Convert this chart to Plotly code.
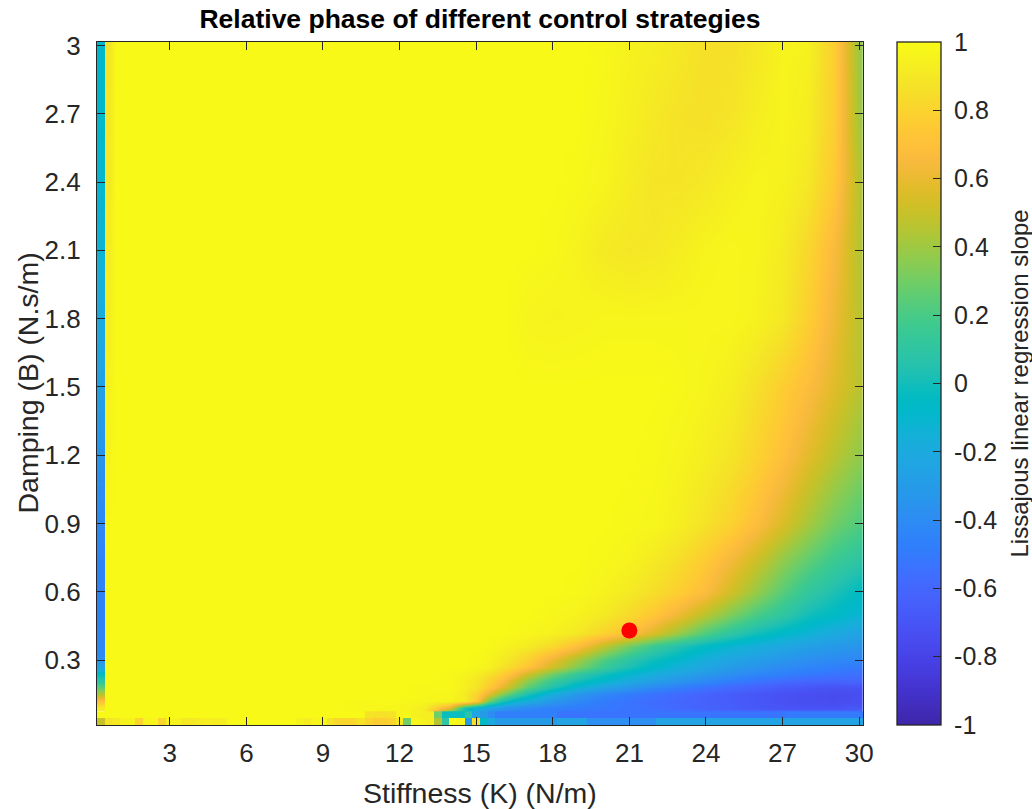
import plotly.graph_objects as go

# ---------------------------------------------------------------------------
# Lissajous linear regression slope over the stiffness / damping plane
# ---------------------------------------------------------------------------

# Field sampled at K (N/m) nodes and B (N.s/m) nodes; rows follow B_NODES.
K_NODES = [0.6, 0.9, 3, 6, 9, 12, 13, 14, 14.5, 15, 15.5, 16, 16.5, 17,
           18, 19, 20, 21, 22, 23, 24, 25, 26, 27, 28, 29, 30]
B_NODES = [0.06, 0.09, 0.12, 0.15, 0.18, 0.21, 0.24, 0.27, 0.30, 0.36, 0.42, 0.50,
           0.60, 0.75, 0.90, 1.2, 1.5, 1.8, 2.1, 2.4, 2.7, 3.0]

SLOPE_ROWS = [
    # B = 0.06
    [0.99] * 5 + [0.97, 0.93, -0.02, -0.02, -0.25, -0.35, -0.45, -0.47, -0.47, -0.50, -0.53,
                  -0.53, -0.53, -0.53, -0.53, -0.53, -0.53, -0.53, -0.53, -0.52, -0.50, -0.50],
    # B = 0.09
    [0.99] * 5 + [0.97, 0.93, 0.55, 0.05, -0.15, -0.25, -0.33, -0.38, -0.42, -0.46, -0.49,
                  -0.51, -0.53, -0.56, -0.59, -0.62, -0.65, -0.68, -0.70, -0.71, -0.71, -0.68],
    # B = 0.12
    [0.99] * 5 + [0.98, 0.97, 0.96, 0.93, 0.75, 0.30, 0.05, -0.10, -0.18, -0.32, -0.42,
                  -0.49, -0.53, -0.57, -0.60, -0.63, -0.66, -0.69, -0.72, -0.74, -0.75, -0.74],
    # B = 0.15
    [0.99] * 6 + [0.98, 0.97, 0.92, 0.80, 0.58, 0.36, 0.18, 0.03, -0.18, -0.33, -0.42,
                  -0.49, -0.54, -0.58, -0.62, -0.66, -0.69, -0.72, -0.74, -0.75, -0.74],
    # B = 0.18
    [0.99] * 6 + [0.98, 0.98, 0.95, 0.88, 0.76, 0.60, 0.42, 0.26, 0.05, -0.12, -0.24,
                  -0.33, -0.41, -0.47, -0.53, -0.58, -0.62, -0.66, -0.69, -0.71, -0.71],
    # B = 0.21
    [0.99] * 7 + [0.98, 0.95, 0.90, 0.80, 0.68, 0.52, 0.36, 0.14, 0.00, -0.10, -0.20,
                  -0.28, -0.35, -0.42, -0.48, -0.53, -0.57, -0.60, -0.61, -0.60],
    # B = 0.24
    [0.99] * 7 + [0.98, 0.96, 0.93, 0.87, 0.78, 0.66, 0.52, 0.30, 0.12, 0.00, -0.10,
                  -0.18, -0.25, -0.32, -0.38, -0.43, -0.47, -0.50, -0.53, -0.55],
    # B = 0.27
    [0.99] * 9 + [0.97, 0.95, 0.88, 0.80, 0.72, 0.52, 0.32, 0.15, 0.02, -0.08, -0.16,
                  -0.23, -0.30, -0.35, -0.40, -0.44, -0.47, -0.50],
    # B = 0.30
    [0.99] * 9 + [0.98, 0.96, 0.92, 0.86, 0.78, 0.60, 0.40, 0.22, 0.08, -0.02, -0.10,
                  -0.18, -0.24, -0.29, -0.34, -0.38, -0.41, -0.44],
    # B = 0.36
    [0.99] * 10 + [0.98, 0.96, 0.94, 0.92, 0.83, 0.68, 0.48, 0.30, 0.15, 0.04, -0.05,
                   -0.12, -0.17, -0.22, -0.27, -0.31, -0.34],
    # B = 0.42
    [0.99] * 12 + [0.98, 0.97, 0.95, 0.90, 0.80, 0.70, 0.55, 0.38, 0.22, 0.10, 0.00,
                   -0.07, -0.13, -0.20, -0.25],
    # B = 0.50
    [0.99] * 14 + [0.97, 0.95, 0.91, 0.83, 0.73, 0.60, 0.46, 0.32, 0.20, 0.10, 0.00,
                   -0.06, -0.12],
    # B = 0.60
    [0.99] * 15 + [0.98, 0.95, 0.91, 0.85, 0.77, 0.67, 0.52, 0.38, 0.24, 0.12, 0.03, -0.05],
    # B = 0.75
    [0.99] * 16 + [0.98, 0.96, 0.91, 0.85, 0.76, 0.64, 0.52, 0.38, 0.27, 0.17, 0.10],
    # B = 0.90
    [0.99] * 17 + [0.98, 0.97, 0.93, 0.87, 0.79, 0.68, 0.55, 0.42, 0.30, 0.22],
    # B = 1.2
    [0.96] + [0.99] * 17 + [0.98, 0.96, 0.93, 0.88, 0.80, 0.70, 0.58, 0.47, 0.37],
    # B = 1.5
    [0.95] + [0.99] * 18 + [0.98, 0.96, 0.93, 0.86, 0.77, 0.68, 0.57, 0.46],
    # B = 1.8
    [0.93] + [0.99] * 11 + [0.98, 0.96, 0.95, 0.96, 0.97, 0.97, 0.97, 0.97, 0.97, 0.97,
                            0.95, 0.90, 0.78, 0.62, 0.46],
    # B = 2.1
    [0.92] + [0.99] * 13 + [0.98, 0.95, 0.91, 0.89, 0.90, 0.93, 0.96, 0.97, 0.96, 0.92,
                            0.82, 0.66, 0.45],
    # B = 2.4
    [0.90] + [0.99] * 14 + [0.98, 0.96, 0.92, 0.88, 0.88, 0.90, 0.94, 0.96, 0.95, 0.90,
                            0.75, 0.45],
    # B = 2.7
    [0.89] + [0.99] * 15 + [0.97, 0.94, 0.90, 0.87, 0.86, 0.88, 0.93, 0.96, 0.93, 0.78, 0.40],
    # B = 3.0
    [0.88] + [0.99] * 15 + [0.98, 0.95, 0.93, 0.90, 0.86, 0.86, 0.90, 0.96, 0.95, 0.78, 0.38],
]

# First stiffness column (K = 0.3 N/m), sampled along B
EDGE_B = [0.09, 0.12, 0.15, 0.18, 0.21, 0.24, 0.27, 0.30, 0.33, 0.45, 0.60, 0.75,
          0.90, 1.2, 1.5, 1.8, 2.1, 2.4, 2.7, 3.0]
EDGE_SLOPE = [0.92, 0.70, 0.45, 0.25, 0.10, -0.05, -0.25, -0.35, -0.42, -0.45, -0.45,
              -0.45, -0.42, -0.35, -0.27, -0.20, -0.13, -0.10, -0.08, -0.08]

# Two lowest damping rows (B = 0.03 and 0.06) at full stiffness resolution
K_FINE = [round(0.3 * i, 1) for i in range(1, 101)]
B_LOW = [0.03, 0.06]
ROW_B003 = ([0.50, 0.88, 0.90, 0.95, 0.96, 0.80, 0.96, 0.97, 0.80, 0.95, 0.96, 0.90, 0.90,
             0.92, 0.93, 0.92, 0.93]
            + [0.99] * 9
            + [0.95, 0.92, 0.97, 0.97, 0.88, 0.82, 0.80, 0.82, 0.88, 0.80, 0.76, 0.78, 0.80,
               0.90, 0.30, 0.97, 0.95, 0.93, 0.45, 0.10, 0.99, 0.97, -0.30, 0.85, -0.05, -0.20]
            + [-0.30] * 8 + [-0.25] * 4 + [-0.38] * 9 + [-0.25] * 27)
ROW_B006 = ([0.99] * 35
            + [0.88, 0.86, 0.86, 0.88, 0.97, 0.98, 0.94, 0.93, 0.93, 0.30, -0.02, -0.02, -0.02,
               0.08, -0.25, -0.30, -0.40]
            + [-0.47] * 8 + [-0.53] * 30 + [-0.50] * 10)

# Operating point
POINT_K = [21.0]
POINT_B = [0.43]

X_TICKS = [3, 6, 9, 12, 15, 18, 21, 24, 27, 30]
Y_TICKS = [0.3, 0.6, 0.9, 1.2, 1.5, 1.8, 2.1, 2.4, 2.7, 3.0]
Y_TICK_TEXT = ["0.3", "0.6", "0.9", "1.2", "1.5", "1.8", "2.1", "2.4", "2.7", "3"]
C_TICKS = [1, 0.8, 0.6, 0.4, 0.2, 0, -0.2, -0.4, -0.6, -0.8, -1]
C_TICK_TEXT = ["1", "0.8", "0.6", "0.4", "0.2", "0", "-0.2", "-0.4", "-0.6", "-0.8", "-1"]

assert all(len(r) == len(K_NODES) for r in SLOPE_ROWS) and len(SLOPE_ROWS) == len(B_NODES)
assert len(EDGE_B) == len(EDGE_SLOPE)
assert len(ROW_B003) == 100 and len(ROW_B006) == 100

# MATLAB parula colormap (64 entries)
PARULA = [
    [0.2422, 0.1504, 0.6603], [0.2504, 0.1650, 0.7076], [0.2578, 0.1818, 0.7511],
    [0.2647, 0.1978, 0.7952], [0.2706, 0.2147, 0.8364], [0.2751, 0.2342, 0.8710],
    [0.2783, 0.2559, 0.8991], [0.2803, 0.2782, 0.9221], [0.2813, 0.3006, 0.9414],
    [0.2810, 0.3228, 0.9579], [0.2795, 0.3447, 0.9717], [0.2760, 0.3667, 0.9829],
    [0.2699, 0.3892, 0.9906], [0.2602, 0.4123, 0.9952], [0.2440, 0.4358, 0.9988],
    [0.2206, 0.4603, 0.9973], [0.1963, 0.4847, 0.9892], [0.1834, 0.5074, 0.9798],
    [0.1786, 0.5289, 0.9682], [0.1764, 0.5499, 0.9520], [0.1687, 0.5703, 0.9359],
    [0.1540, 0.5902, 0.9218], [0.1460, 0.6091, 0.9079], [0.1380, 0.6276, 0.8973],
    [0.1248, 0.6459, 0.8883], [0.1113, 0.6635, 0.8763], [0.0952, 0.6798, 0.8598],
    [0.0689, 0.6948, 0.8394], [0.0297, 0.7082, 0.8163], [0.0036, 0.7203, 0.7917],
    [0.0067, 0.7312, 0.7660], [0.0433, 0.7411, 0.7394], [0.0964, 0.7500, 0.7120],
    [0.1408, 0.7584, 0.6842], [0.1717, 0.7670, 0.6554], [0.1938, 0.7758, 0.6251],
    [0.2161, 0.7843, 0.5923], [0.2470, 0.7918, 0.5567], [0.2906, 0.7973, 0.5188],
    [0.3406, 0.8008, 0.4789], [0.3909, 0.8029, 0.4354], [0.4456, 0.8024, 0.3909],
    [0.5044, 0.7993, 0.3480], [0.5616, 0.7942, 0.3045], [0.6174, 0.7876, 0.2612],
    [0.6720, 0.7793, 0.2227], [0.7242, 0.7698, 0.1910], [0.7738, 0.7598, 0.1646],
    [0.8203, 0.7498, 0.1535], [0.8634, 0.7406, 0.1596], [0.9035, 0.7330, 0.1774],
    [0.9393, 0.7288, 0.2100], [0.9728, 0.7298, 0.2394], [0.9956, 0.7434, 0.2371],
    [0.9970, 0.7659, 0.2199], [0.9952, 0.7893, 0.2028], [0.9892, 0.8136, 0.1885],
    [0.9786, 0.8386, 0.1766], [0.9676, 0.8639, 0.1643], [0.9610, 0.8890, 0.1537],
    [0.9597, 0.9135, 0.1423], [0.9628, 0.9373, 0.1265], [0.9691, 0.9606, 0.1064],
    [0.9769, 0.9839, 0.0805],
]
parula_scale = [
    [i / (len(PARULA) - 1),
     "rgb({},{},{})".format(*[round(255 * c) for c in rgb])]
    for i, rgb in enumerate(PARULA)
]

FONT = "Liberation Sans, Arial, Helvetica, sans-serif"
INK = "#262626"
NBSP = "\u00a0"

fig = go.Figure()

# Main smooth field
fig.add_trace(go.Heatmap(
    x=K_NODES, y=B_NODES, z=SLOPE_ROWS, zsmooth="best",
    coloraxis="coloraxis", hoverinfo="skip",
))
# K = 0.3 column (same values in both half-columns so it stays a flat strip)
fig.add_trace(go.Heatmap(
    x=[0.2275, 0.3825], y=EDGE_B, z=[[v, v] for v in EDGE_SLOPE], zsmooth="best",
    coloraxis="coloraxis", hoverinfo="skip",
))
# Lowest damping rows as discrete cells
fig.add_trace(go.Heatmap(
    x=K_FINE, y=B_LOW, z=[ROW_B003, ROW_B006], zsmooth=False,
    coloraxis="coloraxis", hoverinfo="skip",
))
# Operating point
fig.add_trace(go.Scatter(
    x=POINT_K, y=POINT_B, mode="markers",
    marker=dict(size=16, color="#ff0000", line=dict(width=0)),
    hoverinfo="skip", showlegend=False,
))

axis_common = dict(
    showgrid=False, zeroline=False, showline=True, linecolor=INK, linewidth=1.3,
    mirror="ticks", ticks="inside", ticklen=8, tickwidth=1.3, tickcolor=INK,
    tickfont=dict(family=FONT, size=26, color=INK),
)

fig.update_layout(
    width=1032, height=809,
    margin=dict(l=97, r=169, t=42, b=84),
    paper_bgcolor="white", plot_bgcolor="white",
    showlegend=False,
    title=dict(
        text="Relative phase of different control strategies",
        x=(97 + 383) / 1032, xanchor="center", y=1 - 19 / 809, yanchor="middle",
        font=dict(family=FONT, size=26.5, color="black", weight="bold"),
    ),
    xaxis=dict(range=[0.15, 30.15], tickvals=X_TICKS, ticklabelstandoff=5, **axis_common),
    yaxis=dict(range=[0.015, 3.015], tickvals=Y_TICKS, ticktext=Y_TICK_TEXT,
               ticklabelstandoff=10, **axis_common),
    coloraxis=dict(
        colorscale=parula_scale, cmin=-1, cmax=1,
        colorbar=dict(
            x=(897 - 97) / 766, xanchor="left", xpad=0,
            y=0.5, yanchor="middle", ypad=0, len=1, lenmode="fraction",
            thickness=44, thicknessmode="pixels",
            outlinecolor=INK, outlinewidth=1.3,
            ticks="inside", ticklen=8, tickwidth=1.3, tickcolor=INK,
            tickvals=C_TICKS, ticktext=[NBSP + t for t in C_TICK_TEXT],
            tickfont=dict(family=FONT, size=25, color=INK),
        ),
    ),
    annotations=[
        dict(text="Stiffness (K) (N/m)", xref="paper", yref="paper",
             x=0.5, y=-(793 - 725) / 683, xanchor="center", yanchor="middle",
             showarrow=False, font=dict(family=FONT, size=28.5, color=INK)),
        dict(text="Damping (B) (N.s/m)", xref="paper", yref="paper",
             x=-(97 - 27) / 766, y=0.5, xanchor="center", yanchor="middle",
             textangle=-90, showarrow=False, font=dict(family=FONT, size=28.5, color=INK)),
        dict(text="Lissajous linear regression slope", xref="paper", yref="paper",
             x=(1019 - 97) / 766, y=0.5, xanchor="center", yanchor="middle",
             textangle=-90, showarrow=False, font=dict(family=FONT, size=24, color=INK)),
    ],
)

fig.write_html("out.html")
